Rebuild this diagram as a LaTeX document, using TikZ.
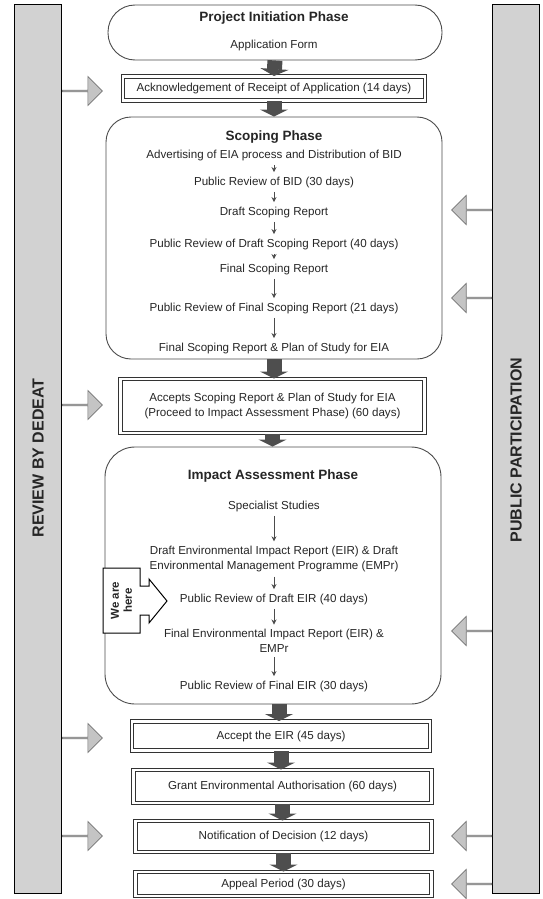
\documentclass[tikz,border=0pt]{standalone}
\usepackage{fontspec}
\setmainfont{Liberation Sans}
\usepackage{xcolor}
\usetikzlibrary{arrows.meta}
\usetikzlibrary{positioning}
\usetikzlibrary{shapes.arrows}
\definecolor{barfill}{HTML}{D2D2D2}
\definecolor{sidefill}{HTML}{C4C4C4}
\definecolor{flowdark}{HTML}{4E4E4E}

\begin{document}
\begin{tikzpicture}[x=1pt, y=-1pt,
	every node/.style={font=\fontsize{11.6}{15.5}\selectfont, text=black!85, align=center},
	phasebox/.style={draw=black!70, line width=0.9pt, fill=white, inner sep=0pt},
	phasetitle/.style={font=\fontsize{13.5}{15}\selectfont\bfseries},
	stagebox/.style={draw=black!80, line width=1pt, double=white, double distance=2.4pt, fill=white, inner sep=0pt},
	sidebar/.style={draw=black, line width=1pt, fill=barfill, minimum width=47pt, minimum height=888pt, inner sep=0pt},
	bartext/.style={font=\fontsize{16}{18}\selectfont\bfseries, rotate=90},
	flowarrow/.style={draw=flowdark, line width=15pt, -{Triangle[width=28pt, length=7pt]}},
	itemarrow/.style={draw=black!70, line width=0.8pt, -{Stealth[length=5pt, width=5pt]}, shorten <=1pt, shorten >=1pt},
	sidearrow/.style={single arrow, draw=black!55, fill=sidefill, line width=0.7pt, minimum height=40pt, minimum width=29pt, single arrow head extend=7pt, inner sep=0pt}
]
	\useasboundingbox (0,0) rectangle (542,899);

	% side bars
	\node[sidebar] (review) at (38,449) {};
	\node[bartext] at (38,458) {REVIEW BY DEDEAT};
	\node[sidebar] (public) at (516,449) {};
	\node[bartext] at (516,450) {PUBLIC PARTICIPATION};

	% project initiation
	\node[phasebox, rounded corners=27pt, minimum width=334pt, minimum height=55pt] (init) at (275,32.5) {};
	\node[phasetitle] (initTitle) at (274,18) {Project Initiation Phase};
	\node (initForm) at (274,46) {Application Form};

	\node[stagebox, minimum width=302pt, minimum height=24pt] (ack) at (274,88.5) {Acknowledgement of Receipt of Application (14 days)};

	% scoping phase
	\node[phasebox, rounded corners=25pt, minimum width=336pt, minimum height=242pt] (scoping) at (274,238) {};
	\node[phasetitle] (scopingTitle) at (274,137) {Scoping Phase};
	\foreach \yPos/\itemText[count=\iItem] in {155/{Advertising of EIA process and Distribution of BID}, 182/{Public Review of BID (30 days)}, 212/{Draft Scoping Report}, 244/{Public Review of Draft Scoping Report (40 days)}, 269/{Final Scoping Report}, 308/{Public Review of Final Scoping Report (21 days)}, 348/{Final Scoping Report \& Plan of Study for EIA}}
	{
		\node (s\iItem) at (274,\yPos) {\itemText};
	}
	\foreach \iItem[evaluate=\iItem as \iNext using int(\iItem + 1)] in {1,...,6}
	{
		\draw[itemarrow] (s\iItem) -- (s\iNext);
	}

	\node[stagebox, minimum width=304pt, minimum height=54pt] (accScoping) at (272.5,406) {Accepts Scoping Report \& Plan of Study for EIA\\(Proceed to Impact Assessment Phase) (60 days)};

	% impact assessment phase
	\node[phasebox, rounded corners=30pt, minimum width=336pt, minimum height=257pt] (impact) at (273,575.5) {};
	\node[phasetitle] (impactTitle) at (273,476) {Impact Assessment Phase};
	\foreach \yPos/\itemText[count=\iItem] in {506/{Specialist Studies}, 559/{Draft Environmental Impact Report (EIR) \& Draft\\Environmental Management Programme (EMPr)}, 599/{Public Review of Draft EIR (40 days)}, 641/{Final Environmental Impact Report (EIR) \&\\EMPr}, 686/{Public Review of Final EIR (30 days)}}
	{
		\node (i\iItem) at (274,\yPos) {\itemText};
	}
	\foreach \iItem[evaluate=\iItem as \iNext using int(\iItem + 1)] in {1,...,4}
	{
		\draw[itemarrow] (i\iItem) -- (i\iNext);
	}

	% we are here
	\draw[black, line width=1pt, fill=white] (103,568) -- (140,568) -- (140,586) -- (149,586) -- (149,579) -- (167,601) -- (149,623) -- (149,615) -- (140,615) -- (140,633) -- (103,633) -- cycle;
	\node[font=\fontsize{11.5}{13}\selectfont\bfseries, rotate=90, inner sep=0pt] (here) at (121.5,600.5) {We are\\here};

	% decision stages
	\node[stagebox, minimum width=298pt, minimum height=29pt] (accEIR) at (281,736) {Accept the EIR (45 days)};
	\node[stagebox, minimum width=298pt, minimum height=33pt] (grant) at (282.5,786.5) {Grant Environmental Authorisation (60 days)};
	\node[stagebox, minimum width=296pt, minimum height=31pt] (notice) at (283.5,836.5) {Notification of Decision (12 days)};
	\node[stagebox, minimum width=296pt, minimum height=24pt] (appeal) at (283.5,884) {Appeal Period (30 days)};

	% main flow
	\draw[flowarrow] (init.south) -- (ack.north);
	\draw[flowarrow] (ack.south) -- (scoping.north);
	\draw[flowarrow] (scoping.south) -- (scoping.south |- accScoping.north);
	\draw[flowarrow] (accScoping.south) -- (accScoping.south |- impact.north);
	\draw[flowarrow] ([xshift=6pt]impact.south) -- ([xshift=6pt]impact.south |- accEIR.north);
	\foreach \startLabel/\endLabel in {accEIR/grant, grant/notice, notice/appeal}
	{
		\draw[flowarrow] (\startLabel.south) -- (\startLabel.south |- \endLabel.north);
	}

	% review and participation arrows
	\foreach \yPos in {91, 405, 738, 836}
	{
		\node[sidearrow, anchor=tail] at (review.east |- 0,\yPos) {};
	}
	\foreach \yPos in {210, 298, 631, 836, 884}
	{
		\node[sidearrow, shape border rotate=180, anchor=tail] at (public.west |- 0,\yPos) {};
	}
\end{tikzpicture}
\end{document}
